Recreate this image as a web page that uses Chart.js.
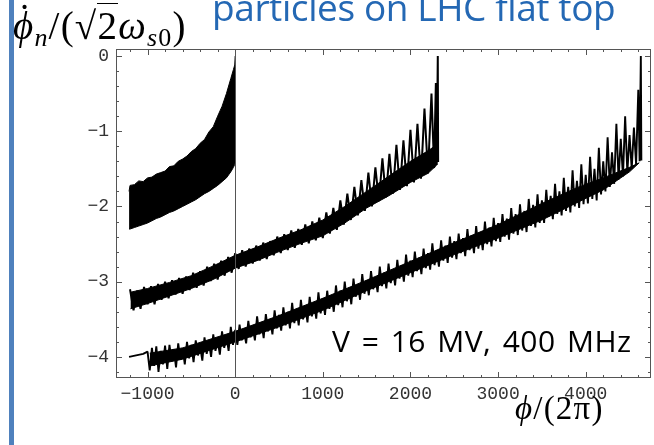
<!DOCTYPE html>
<html>
<head>
<meta charset="utf-8">
<script src="https://cdn.jsdelivr.net/npm/chart.js@4.4.1/dist/chart.umd.min.js"></script>
<style>
  body { margin: 0; background: #fff; }
  #page { position: relative; width: 654px; height: 445px; overflow: hidden; background: #fff; }
  #bar { position: absolute; left: 9px; top: 0; width: 5px; height: 445px; background: #4f81bd; }
  #chart { position: absolute; left: 0; top: 0; }
  .txt { position: absolute; white-space: nowrap; line-height: 1; }
  #title { left: 212px; top: -12px; font-family: 'Open Sans'; font-size: 37px; letter-spacing: -0.4px; color: #2468b4; }
  #note { left: 332px; top: 326px; font-family: 'Open Sans'; font-size: 30px; letter-spacing: 0.5px; word-spacing: 3px; color: #000; }
  .math { font-family: 'Liberation Serif', 'DejaVu Serif', serif; color: #000; }
  #ylab { left: 13px; top: 6px; font-size: 39px; letter-spacing: 1.2px; }
  #ylab sub { font-size: 26px; vertical-align: -7px; }
  #xlab { left: 515px; top: 392px; font-size: 33px; letter-spacing: 1.2px; }
  .dot { position: relative; }
  .dot b { position: absolute; left: 5px; top: -6px; font-weight: normal; font-style: normal; }
  .rad { border-top: 1.5px solid #000; }
</style>
</head>
<body>
<div id="page">
  <canvas id="chart" width="654" height="445"></canvas>
  <div id="bar"></div>
  <div id="title" class="txt">particles on LHC flat top</div>
  <div id="ylab" class="txt math"><span class="dot"><i>ϕ</i><b>˙</b></span><sub><i>n</i></sub>/(√<span class="rad">2</span><i>ω</i><sub><i>s</i>0</sub>)</div>
  <div id="xlab" class="txt math"><i>ϕ</i>/(2π)</div>
  <div id="note" class="txt">V = 16 MV, 400 MHz</div>
</div>
<script>
// axis ticks
const xTickValues = [-1000, 0, 1000, 2000, 3000, 4000];
const xTickLabels = ['−1000', '0', '1000', '2000', '3000', '4000'];
const yTickValues = [0, -1, -2, -3, -4];
const yTickLabels = ['0', '−1', '−2', '−3', '−4'];
const xMinorTicks = [-1200, -1000, -800, -600, -400, -200, 0, 200, 400, 600, 800, 1000, 1200, 1400, 1600, 1800,
  2000, 2200, 2400, 2600, 2800, 3000, 3200, 3400, 3600, 3800, 4000, 4200, 4400, 4600];
const yMinorTicks = [0, -0.2, -0.4, -0.6, -0.8, -1, -1.2, -1.4, -1.6, -1.8, -2, -2.2, -2.4, -2.6, -2.8,
  -3, -3.2, -3.4, -3.6, -3.8, -4, -4.2];

// first particle: dense band, read as upper and lower edge
const trace1X = [-1211, -1200, -1150, -1100, -1050, -1000, -950, -900, -850, -800,
  -750, -700, -650, -600, -550, -500, -450, -400, -350, -300,
  -250, -200, -150, -100, -50, -20, -5, 0];
const trace1Upper = [-1.80, -1.72, -1.71, -1.66, -1.67, -1.62, -1.61, -1.57, -1.55, -1.53,
  -1.47, -1.46, -1.40, -1.37, -1.33, -1.27, -1.23, -1.16, -1.11, -1.01,
  -0.94, -0.80, -0.67, -0.50, -0.30, -0.18, -0.12, 0.0];
const trace1Lower = [-2.30, -2.30, -2.28, -2.26, -2.24, -2.22, -2.19, -2.16, -2.14, -2.11,
  -2.08, -2.06, -2.03, -2.00, -1.97, -1.94, -1.91, -1.87, -1.83, -1.80,
  -1.76, -1.72, -1.67, -1.62, -1.54, -1.48, -1.44, -1.41];

// second particle: solid core of the band
const trace2CoreX = [-1195, -1000, -750, -500, -250, 0, 250, 500, 750, 1000, 1250, 1500, 1750, 2000, 2200, 2300];
const trace2CoreTop = [-3.14, -3.09, -3.01, -2.92, -2.79, -2.65, -2.54, -2.42, -2.31, -2.18,
  -2.00, -1.80, -1.60, -1.40, -1.26, -1.18];
const trace2CoreBottom = [-3.36, -3.29, -3.19, -3.09, -2.97, -2.82, -2.72, -2.60, -2.49, -2.39,
  -2.22, -2.02, -1.86, -1.68, -1.56, -1.45];

// second particle: oscillation
const trace2X = [-1200, -1160, -1120, -1080, -1040, -1000, -960, -920, -880, -840,
  -800, -760, -720, -680, -640, -600, -560, -520, -480, -440,
  -400, -360, -320, -280, -240, -200, -160, -120, -80, -40,
  0, 40, 80, 120, 160, 200, 240, 280, 320, 360,
  400, 440, 480, 520, 560, 600, 640, 680, 720, 760,
  800, 840, 880, 920, 960, 1000, 1040, 1080, 1120, 1160,
  1200, 1240, 1280, 1320, 1360, 1400, 1440, 1480, 1520, 1560,
  1600, 1640, 1680, 1720, 1760, 1800, 1840, 1880, 1920, 1960,
  2000, 2040, 2080, 2120, 2160, 2200, 2240, 2270, 2290, 2300,
  2312, 2316];
const trace2Y = [-3.10, -3.38, -3.12, -3.36, -3.07, -3.30, -3.06, -3.30, -3.03, -3.24,
  -3.00, -3.22, -2.98, -3.17, -2.95, -3.16, -2.93, -3.11, -2.88, -3.08,
  -2.86, -3.05, -2.80, -2.99, -2.76, -2.97, -2.72, -2.92, -2.67, -2.88,
  -2.62, -2.83, -2.58, -2.80, -2.56, -2.76, -2.52, -2.72, -2.48, -2.70,
  -2.46, -2.65, -2.40, -2.62, -2.37, -2.58, -2.32, -2.55, -2.30, -2.51,
  -2.24, -2.49, -2.20, -2.45, -2.15, -2.42, -2.08, -2.36, -2.02, -2.31,
  -1.92, -2.24, -1.83, -2.18, -1.74, -2.12, -1.65, -2.06, -1.55, -2.00,
  -1.48, -1.93, -1.36, -1.88, -1.30, -1.83, -1.18, -1.78, -1.12, -1.73,
  -0.98, -1.68, -0.90, -1.63, -0.70, -1.56, -0.50, -1.49, -0.36, -1.45,
  0.0, -1.41];

// third particle: solid core of the band
const trace3CoreX = [-975, -600, 0, 500, 1000, 1500, 2000, 2500, 3000, 3500, 3900, 4200, 4500, 4610];
const trace3CoreTop = [-3.95, -3.88, -3.66, -3.45, -3.22, -2.98, -2.73, -2.48, -2.24, -1.96,
  -1.75, -1.62, -1.48, -1.42];
const trace3CoreBottom = [-4.12, -4.03, -3.80, -3.60, -3.38, -3.12, -2.88, -2.64, -2.42, -2.18,
  -1.95, -1.78, -1.54, -1.42];

// third particle: oscillation
const trace3X = [-1211, -1050,
  -1000, -975, -950, -925, -900, -875, -850, -825, -800, -775,
  -750, -725, -700, -675, -650, -625, -600, -575, -550, -525,
  -500, -475, -450, -425, -400, -375, -350, -325, -300, -275,
  -250, -225, -200, -175, -150, -125, -100, -75, -50, -25,
  0, 25, 50, 75, 100, 125, 150, 175, 200, 225,
  250, 275, 300, 325, 350, 375, 400, 425, 450, 475,
  500, 525, 550, 575, 600, 625, 650, 675, 700, 725,
  750, 775, 800, 825, 850, 875, 900, 925, 950, 975,
  1000, 1025, 1050, 1075, 1100, 1125, 1150, 1175, 1200, 1225,
  1250, 1275, 1300, 1325, 1350, 1375, 1400, 1425, 1450, 1475,
  1500, 1525, 1550, 1575, 1600, 1625, 1650, 1675, 1700, 1725,
  1750, 1775, 1800, 1825, 1850, 1875, 1900, 1925, 1950, 1975,
  2000, 2025, 2050, 2075, 2100, 2125, 2150, 2175, 2200, 2225,
  2250, 2275, 2300, 2325, 2350, 2375, 2400, 2425, 2450, 2475,
  2500, 2525, 2550, 2575, 2600, 2625, 2650, 2675, 2700, 2725,
  2750, 2775, 2800, 2825, 2850, 2875, 2900, 2925, 2950, 2975,
  3000, 3025, 3050, 3075, 3100, 3125, 3150, 3175, 3200, 3225,
  3250, 3275, 3300, 3325, 3350, 3375, 3400, 3425, 3450, 3475,
  3500, 3525, 3550, 3575, 3600, 3625, 3650, 3675, 3700, 3725,
  3750, 3775, 3800, 3825, 3850, 3875, 3900, 3925, 3950, 3975,
  4000, 4025, 4050, 4075, 4100, 4125, 4150, 4175, 4200, 4225,
  4250, 4275, 4300, 4325, 4350, 4375, 4400, 4425, 4450, 4475,
  4500, 4525, 4550, 4575, 4600, 4615, 4629, 4635];
const trace3Y = [-4.00, -3.96,
  -3.93, -4.18, -3.88, -4.12, -3.86, -4.20, -3.92, -4.10, -3.85, -4.16,
  -3.84, -4.06, -3.90, -4.14, -3.82, -4.04, -3.88, -4.10, -3.80, -4.02,
  -3.84, -4.07, -3.78, -3.98, -3.86, -4.05, -3.74, -3.96, -3.80, -4.00,
  -3.70, -3.92, -3.78, -3.97, -3.66, -3.88, -3.72, -3.92, -3.60, -3.84,
  -3.64, -3.84, -3.57, -3.78, -3.66, -3.82, -3.52, -3.74, -3.60, -3.78,
  -3.46, -3.70, -3.54, -3.75, -3.43, -3.66, -3.50, -3.70, -3.38, -3.62,
  -3.44, -3.65, -3.34, -3.58, -3.40, -3.62, -3.28, -3.55, -3.36, -3.58,
  -3.24, -3.50, -3.32, -3.54, -3.20, -3.46, -3.28, -3.49, -3.14, -3.42,
  -3.22, -3.44, -3.12, -3.36, -3.18, -3.40, -3.05, -3.31, -3.12, -3.34,
  -3.00, -3.26, -3.08, -3.30, -2.96, -3.20, -3.04, -3.24, -2.90, -3.16,
  -2.98, -3.18, -2.86, -3.10, -2.94, -3.14, -2.80, -3.06, -2.88, -3.09,
  -2.76, -3.02, -2.84, -3.05, -2.71, -2.96, -2.78, -3.00, -2.64, -2.92,
  -2.72, -2.94, -2.60, -2.86, -2.68, -2.90, -2.56, -2.82, -2.62, -2.84,
  -2.49, -2.78, -2.58, -2.80, -2.45, -2.72, -2.52, -2.75, -2.40, -2.68,
  -2.46, -2.70, -2.36, -2.62, -2.42, -2.66, -2.30, -2.58, -2.38, -2.62,
  -2.26, -2.56, -2.34, -2.58, -2.20, -2.50, -2.28, -2.53, -2.15, -2.46,
  -2.22, -2.47, -2.10, -2.40, -2.16, -2.44, -2.02, -2.36, -2.10, -2.38,
  -1.97, -2.32, -2.06, -2.34, -1.90, -2.26, -1.98, -2.28, -1.84, -2.22,
  -1.92, -2.22, -1.78, -2.14, -1.86, -2.17, -1.70, -2.10, -1.80, -2.12,
  -1.62, -2.06, -1.74, -2.08, -1.52, -2.00, -1.66, -2.02, -1.44, -1.97,
  -1.58, -1.96, -1.34, -1.90, -1.50, -1.92, -1.22, -1.84, -1.40, -1.80,
  -1.08, -1.74, -1.28, -1.70, -0.90, -1.64, -1.10, -1.60, -0.80, -1.55,
  -1.05, -1.50, -0.95, -1.44, -0.45, -1.40, 0.0, -1.39];

const pts = (xs, ys) => xs.map((x, i) => ({ x: x, y: ys[i] }));

const line = (data, width, fill) => ({
  data: data,
  showLine: true,
  borderColor: '#000',
  backgroundColor: '#000',
  borderWidth: width,
  borderJoinStyle: 'bevel',
  pointRadius: 0,
  tension: 0,
  fill: fill
});

// frame with inward ticks on all four sides, plus the axis at x = 0
const frame = {
  id: 'frame',
  afterDatasetsDraw(chart) {
    const { ctx, chartArea: a, scales: { x, y } } = chart;
    ctx.save();
    ctx.strokeStyle = '#555';
    ctx.lineWidth = 1;
    const x0 = Math.round(x.getPixelForValue(0)) + 0.5;
    ctx.beginPath();
    ctx.moveTo(x0, a.top);
    ctx.lineTo(x0, a.bottom);
    ctx.stroke();
    ctx.strokeRect(a.left + 0.5, a.top + 0.5, a.right - a.left - 1, a.bottom - a.top - 1);
    ctx.beginPath();
    xMinorTicks.forEach(v => {
      const p = Math.round(x.getPixelForValue(v)) + 0.5;
      const len = xTickValues.includes(v) ? 6 : 3;
      ctx.moveTo(p, a.bottom); ctx.lineTo(p, a.bottom - len);
      ctx.moveTo(p, a.top); ctx.lineTo(p, a.top + len);
    });
    yMinorTicks.forEach(v => {
      const p = Math.round(y.getPixelForValue(v)) + 0.5;
      const len = yTickValues.includes(v) ? 6 : 3;
      ctx.moveTo(a.left, p); ctx.lineTo(a.left + len, p);
      ctx.moveTo(a.right, p); ctx.lineTo(a.right - len, p);
    });
    ctx.stroke();
    ctx.restore();
  }
};

const tickFont = { family: "'Liberation Mono', 'DejaVu Sans Mono', monospace", size: 18 };

new Chart(document.getElementById('chart'), {
  type: 'scatter',
  data: {
    datasets: [
      line(pts(trace1X, trace1Upper), 1, '+1'),
      line(pts(trace1X, trace1Lower), 1, false),
      line(pts(trace2CoreX, trace2CoreTop), 1, '+1'),
      line(pts(trace2CoreX, trace2CoreBottom), 1, false),
      line(pts(trace2X, trace2Y), 2, false),
      line(pts(trace3CoreX, trace3CoreTop), 1, '+1'),
      line(pts(trace3CoreX, trace3CoreBottom), 1, false),
      line(pts(trace3X, trace3Y), 1.9, false)
    ]
  },
  options: {
    responsive: false,
    animation: false,
    layout: { padding: { left: 0, right: 3, top: 49, bottom: 0 } },
    plugins: { legend: { display: false }, tooltip: { enabled: false } },
    scales: {
      x: {
        type: 'linear',
        min: -1360,
        max: 4745,
        grid: { display: false, drawTicks: false },
        border: { display: false },
        afterBuildTicks: s => { s.ticks = xTickValues.map(v => ({ value: v })); },
        afterFit: s => { s.height = 67; s.paddingLeft = 0; s.paddingRight = 0; },
        ticks: {
          autoSkip: false,
          maxRotation: 0,
          padding: 5,
          color: '#333',
          font: tickFont,
          callback: v => xTickLabels[xTickValues.indexOf(v)]
        }
      },
      y: {
        type: 'linear',
        min: -4.28,
        max: 0.093,
        grid: { display: false, drawTicks: false },
        border: { display: false },
        afterBuildTicks: s => { s.ticks = yTickValues.map(v => ({ value: v })); },
        afterFit: s => { s.width = 116; s.paddingTop = 0; s.paddingBottom = 0; },
        ticks: {
          padding: 7,
          color: '#333',
          font: tickFont,
          callback: v => yTickLabels[yTickValues.indexOf(v)]
        }
      }
    }
  },
  plugins: [frame]
});
</script>
</body>
</html>
